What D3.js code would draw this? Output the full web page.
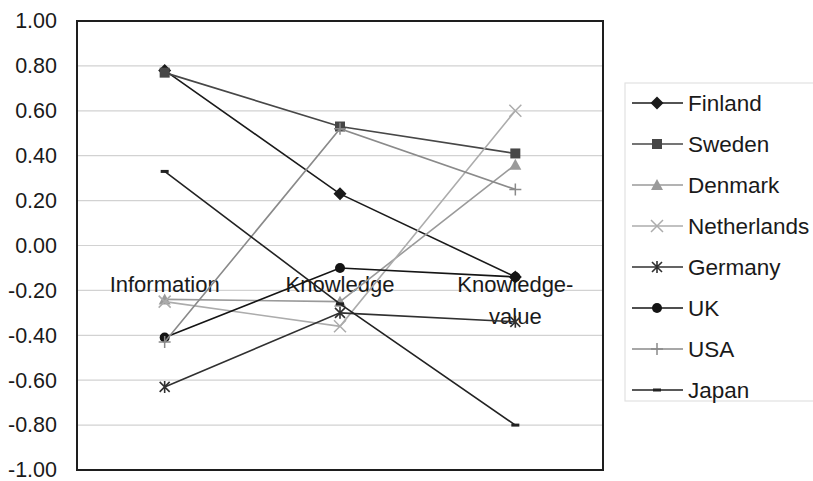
<!DOCTYPE html>
<html>
<head>
<meta charset="utf-8">
<script src="https://cdn.jsdelivr.net/npm/d3@7"></script>
<style>
  html, body { margin: 0; padding: 0; background: #fff; }
  svg { display: block; font-family: "Liberation Sans", Arial, sans-serif; }
</style>
</head>
<body>
<svg id="chart" width="813" height="481"></svg>
<script>
// Categories along the x axis
const categories = ["Information", "Knowledge", "Knowledge-value"];
const categoryLines = [["Information"], ["Knowledge"], ["Knowledge-", "value"]];

// Series values, one array per country
const countries = ["Finland", "Sweden", "Denmark", "Netherlands", "Germany", "UK", "USA", "Japan"];
const finland     = [0.78, 0.23, -0.14];
const sweden      = [0.77, 0.53, 0.41];
const denmark     = [-0.24, -0.25, 0.36];
const netherlands = [-0.25, -0.36, 0.60];
const germany     = [-0.63, -0.30, -0.34];
const uk          = [-0.41, -0.10, -0.14];
const usa         = [-0.43, 0.52, 0.25];
const japan       = [0.33, -0.26, -0.80];

// Y axis tick labels
const yTicks = [1.0, 0.8, 0.6, 0.4, 0.2, 0.0, -0.2, -0.4, -0.6, -0.8, -1.0];

const seriesValues = [finland, sweden, denmark, netherlands, germany, uk, usa, japan];
const seriesStyle = [
  { color: "#1a1a1a", marker: "diamond" },
  { color: "#474747", marker: "square" },
  { color: "#9a9a9a", marker: "triangle" },
  { color: "#acacac", marker: "x" },
  { color: "#303030", marker: "asterisk" },
  { color: "#141414", marker: "circle" },
  { color: "#8a8a8a", marker: "plus" },
  { color: "#222222", marker: "dash" }
];
const series = countries.map((name, i) => ({ name, values: seriesValues[i], ...seriesStyle[i] }));

const svg = d3.select("#chart");
const plot = { left: 77, right: 603, top: 21, bottom: 470 };

const x = d3.scaleBand().domain(categories).range([plot.left, plot.right]);
const y = d3.scaleLinear().domain([-1, 1]).range([plot.bottom, plot.top]);
const cx = c => x(c) + x.bandwidth() / 2;

// Horizontal gridlines
svg.append("g")
  .selectAll("line")
  .data(yTicks.filter(t => t !== 1.0 && t !== -1.0))
  .join("line")
  .attr("x1", plot.left).attr("x2", plot.right)
  .attr("y1", d => y(d)).attr("y2", d => y(d))
  .attr("stroke", "#d2d2d2").attr("stroke-width", 1.2);

// Y axis labels (plain hyphen for negatives)
const fmt = d3.format(".2f");
const yAxis = d3.axisLeft(y).tickValues(yTicks)
  .tickFormat(d => fmt(d).replace("\u2212", "-"))
  .tickSize(0).tickPadding(20);
const yg = svg.append("g").attr("transform", `translate(${plot.left},0)`).call(yAxis);
yg.select(".domain").remove();
yg.selectAll("text")
  .attr("font-size", 21.5)
  .attr("font-family", "Liberation Sans, Arial, sans-serif")
  .attr("fill", "#1a1a1a");

// Plot frame
svg.append("rect")
  .attr("x", plot.left).attr("y", plot.top)
  .attr("width", plot.right - plot.left).attr("height", plot.bottom - plot.top)
  .attr("fill", "none").attr("stroke", "#1e1e1e").attr("stroke-width", 2);

// Category labels, sitting just below the zero line
const catG = svg.append("g");
categories.forEach((c, i) => {
  const t = catG.append("text")
    .attr("x", cx(c)).attr("y", y(0) + 46)
    .attr("text-anchor", "middle")
    .attr("font-size", 22)
    .attr("fill", "#1a1a1a");
  categoryLines[i].forEach((line, j) => {
    t.append("tspan").attr("x", cx(c)).attr("dy", j === 0 ? 0 : 32).text(line);
  });
});

// Marker shapes
function drawMarker(g, type, px, py, color) {
  switch (type) {
    case "diamond":
      g.append("path").attr("d", `M${px},${py - 6.5}L${px + 6.5},${py}L${px},${py + 6.5}L${px - 6.5},${py}Z`).attr("fill", color);
      break;
    case "square":
      g.append("rect").attr("x", px - 5).attr("y", py - 5).attr("width", 10).attr("height", 10).attr("fill", color);
      break;
    case "triangle":
      g.append("path").attr("d", `M${px},${py - 6}L${px + 6},${py + 5}L${px - 6},${py + 5}Z`).attr("fill", color);
      break;
    case "x":
      g.append("path").attr("d", `M${px - 6},${py - 6}L${px + 6},${py + 6}M${px - 6},${py + 6}L${px + 6},${py - 6}`)
        .attr("stroke", color).attr("stroke-width", 1.5).attr("fill", "none");
      break;
    case "asterisk":
      g.append("path").attr("d", `M${px - 5},${py - 5}L${px + 5},${py + 5}M${px - 5},${py + 5}L${px + 5},${py - 5}M${px},${py - 6}L${px},${py + 6}`)
        .attr("stroke", color).attr("stroke-width", 1.6).attr("fill", "none");
      break;
    case "circle":
      g.append("circle").attr("cx", px).attr("cy", py).attr("r", 5).attr("fill", color);
      break;
    case "plus":
      g.append("path").attr("d", `M${px - 6},${py}L${px + 6},${py}M${px},${py - 6}L${px},${py + 6}`)
        .attr("stroke", color).attr("stroke-width", 1.5).attr("fill", "none");
      break;
    case "dash":
      g.append("rect").attr("x", px - 4).attr("y", py - 1.5).attr("width", 8).attr("height", 3).attr("fill", color);
      break;
  }
}

// Series lines and markers
const line = d3.line().x((d, i) => cx(categories[i])).y(d => y(d));
series.forEach(s => {
  const g = svg.append("g");
  g.append("path").attr("d", line(s.values))
    .attr("fill", "none").attr("stroke", s.color).attr("stroke-width", 1.6);
  s.values.forEach((v, i) => drawMarker(g, s.marker, cx(categories[i]), y(v), s.color));
});

// Legend
const legend = { x: 625, y: 83, w: 200, h: 318, row: 41 };
svg.append("rect")
  .attr("x", legend.x).attr("y", legend.y).attr("width", legend.w).attr("height", legend.h)
  .attr("fill", "#fff").attr("stroke", "#e2e2e2").attr("stroke-width", 1.2);
series.forEach((s, i) => {
  const ly = legend.y + 20 + i * legend.row;
  const g = svg.append("g");
  g.append("line").attr("x1", 632).attr("x2", 683).attr("y1", ly).attr("y2", ly)
    .attr("stroke", s.color).attr("stroke-width", 1.6);
  drawMarker(g, s.marker, 657, ly, s.color);
  g.append("text").attr("x", 688).attr("y", ly + 8)
    .attr("font-size", 22.5).attr("fill", "#1a1a1a").text(s.name);
});
</script>
</body>
</html>
